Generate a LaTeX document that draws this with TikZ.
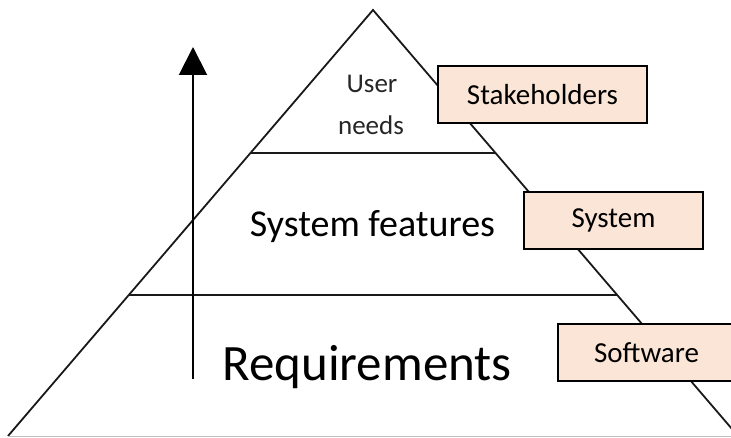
\documentclass[tikz,border=0pt]{standalone}
\usepackage{fontspec}
\setmainfont{Carlito}
\usetikzlibrary{arrows.meta,calc}
\definecolor{peach}{HTML}{FBE5D6}
\tikzset{
  edge/.style={line width=1.8pt, black!90},
  label box/.style={draw=black, line width=2pt, fill=peach, inner sep=0pt,
    minimum height=57pt, font=\fontsize{29}{30}\selectfont},
  level text/.style={anchor=base, inner sep=0pt},
}
\begin{document}
\begin{tikzpicture}[x=1pt,y=-1pt]
\useasboundingbox (0,0) rectangle (731,438);
\clip (0,0) rectangle (731,438);
% pyramid corners
\coordinate (apex) at (373,10);
\coordinate (bl) at (8,436);
\coordinate (br) at (738,436);
\coordinate (l1) at ($(apex)!0.3357!(bl)$);
\coordinate (r1) at ($(apex)!0.3357!(br)$);
\coordinate (l2) at ($(apex)!0.669!(bl)$);
\coordinate (r2) at ($(apex)!0.669!(br)$);
\draw[edge] (bl) -- (apex) -- (br);
\draw[edge] (l1) -- (r1);
\draw[edge] (l2) -- (r2);
\coordinate (gl) at (8,436.5);
\coordinate (gr) at (731,436.5);
\draw[line width=1.5pt, black!25] (gl) -- (gr);
% texts
\node[level text, text=black!85, font=\fontsize{27}{28}\selectfont] (user) at (372,93) {User};
\node[level text, text=black!85, font=\fontsize{27}{28}\selectfont] (needs) at (371,135) {needs};
\node[level text, font=\fontsize{38}{40}\selectfont] (features) at (372.5,237) {System features};
\node[level text, font=\fontsize{51}{53}\selectfont] (req) at (367,380) {Requirements};
% arrow
\coordinate (abase) at (193,379);
\coordinate (atip) at (193,47);
\draw[line width=2pt, -{Triangle[width=28pt,length=28pt]}] (abase) -- (atip);
% label boxes
\node[label box, minimum width=209pt] (stake) at (542.5,94.5) {Stakeholders};
\node[label box, minimum width=179pt] (system) at (613.5,220.5) {System};
\node[label box, minimum width=177pt] (soft) at (646.5,352.5) {Software};
\end{tikzpicture}
\end{document}
